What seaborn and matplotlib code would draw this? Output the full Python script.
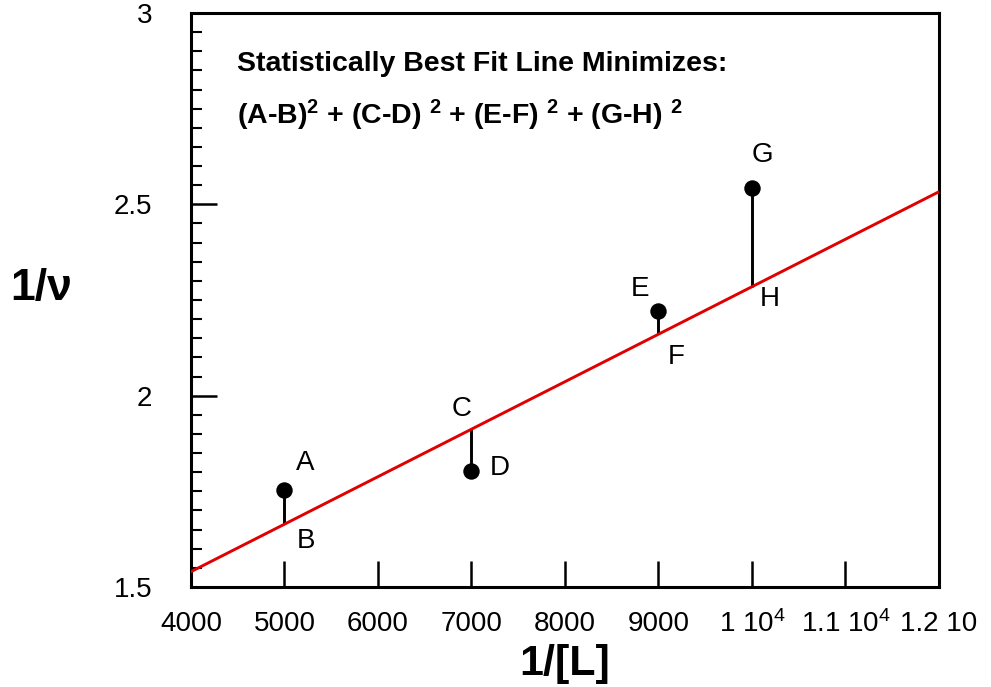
import matplotlib
matplotlib.use("Agg")
import matplotlib.pyplot as plt
import seaborn as sns
import pandas as pd
from matplotlib.ticker import MultipleLocator, FixedLocator

# measured points (A, D, E, G) and the fit line values under them (B, C, F, H)
pt_x = [5000, 7000, 9000, 10000]
pt_y = [1.753, 1.803, 2.221, 2.543]
pt_names = ["A", "D", "E", "G"]
line_names = ["B", "C", "F", "H"]

# fit line (end points at the axis limits)
fit_x = [4000, 12000]
fit_y = [1.540, 2.533]

x_ticks = [4000, 5000, 6000, 7000, 8000, 9000, 10000, 11000, 12000]
x_ticklabels = ["4000", "5000", "6000", "7000", "8000", "9000",
                r"1 10$^4$", r"1.1 10$^4$", "1.2 10"]
y_ticks = [1.5, 2.0, 2.5, 3.0]
y_ticklabels = ["1.5", "2", "2.5", "3"]

sns.set_theme(style="ticks")
plt.rcParams["font.family"] = ["Liberation Sans", "DejaVu Sans"]
plt.rcParams["mathtext.fontset"] = "custom"
plt.rcParams["mathtext.rm"] = "Liberation Sans"
plt.rcParams["mathtext.it"] = "Liberation Sans:italic"
plt.rcParams["mathtext.bf"] = "Liberation Sans:bold"
for k in ["text.color", "axes.labelcolor", "xtick.color", "ytick.color"]:
    plt.rcParams[k] = "black"

fig = plt.figure(figsize=(9.91, 6.87), dpi=100)
ax = fig.add_axes([0.1927, 0.1456, 0.7548, 0.8354])

slope = (fit_y[1] - fit_y[0]) / (fit_x[1] - fit_x[0])
on_line = [fit_y[0] + slope * (x - fit_x[0]) for x in pt_x]

df_pts = pd.DataFrame({"x": pt_x, "y": pt_y})
df_fit = pd.DataFrame({"x": fit_x, "y": fit_y})

# residual stems
ax.vlines(pt_x, on_line, pt_y, color="black", lw=2.1, zorder=2)
sns.lineplot(data=df_fit, x="x", y="y", color="#e00000", lw=2.1, ax=ax, zorder=3)
sns.scatterplot(data=df_pts, x="x", y="y", color="black", s=140,
                edgecolor="black", linewidth=0, ax=ax, zorder=4)

# letter labels (offsets in pixels)
pt_off = {"A": (21, 27), "D": (28, 3), "E": (-18, 22), "G": (10, 33)}
line_off = {"B": (22, -17), "C": (-10, 20), "F": (18, -23), "H": (18, -12)}
for x, y, n in zip(pt_x, pt_y, pt_names):
    ax.annotate(n, (x, y), xytext=pt_off[n], textcoords="offset pixels",
                ha="center", va="center", fontsize=20)
for x, y, n in zip(pt_x, on_line, line_names):
    ax.annotate(n, (x, y), xytext=line_off[n], textcoords="offset pixels",
                ha="center", va="center", fontsize=20)

ax.text(0.062, 0.912, "Statistically Best Fit Line Minimizes:", transform=ax.transAxes,
        fontsize=20.5, fontweight="bold", ha="left", va="center")
ax.text(0.062, 0.822,
        r"(A-B)$^\mathbf{2}$ + (C-D) $^\mathbf{2}$ + (E-F) $^\mathbf{2}$ + (G-H) $^\mathbf{2}$",
        transform=ax.transAxes, fontsize=20.5, fontweight="bold", ha="left", va="center")

ax.set_xlim(4000, 12000)
ax.set_ylim(1.5, 3.0)
ax.xaxis.set_major_locator(FixedLocator(x_ticks))
ax.set_xticklabels(x_ticklabels)
ax.yaxis.set_major_locator(FixedLocator(y_ticks))
ax.set_yticklabels(y_ticklabels)
ax.yaxis.set_minor_locator(MultipleLocator(0.05))

ax.tick_params(axis="both", which="major", direction="in", length=19, width=1.8,
               labelsize=20, colors="black")
ax.tick_params(axis="x", which="major", pad=17)
ax.tick_params(axis="y", which="major", pad=28)
ax.tick_params(axis="y", which="minor", direction="in", length=8, width=1.5)
ax.tick_params(axis="x", which="minor", bottom=False)

for s in ax.spines.values():
    s.set_visible(True)
    s.set_linewidth(2.2)
    s.set_color("black")

ax.set_xlabel("1/[L]", fontsize=31, fontweight="bold", va="center")
ax.set_ylabel("1/ν", fontsize=32, fontweight="bold", rotation=0, va="center", ha="center")
ax.yaxis.set_label_coords(-0.2, 0.52)
ax.xaxis.set_label_coords(0.5, -0.135)

fig.savefig("out.png", dpi=100)
